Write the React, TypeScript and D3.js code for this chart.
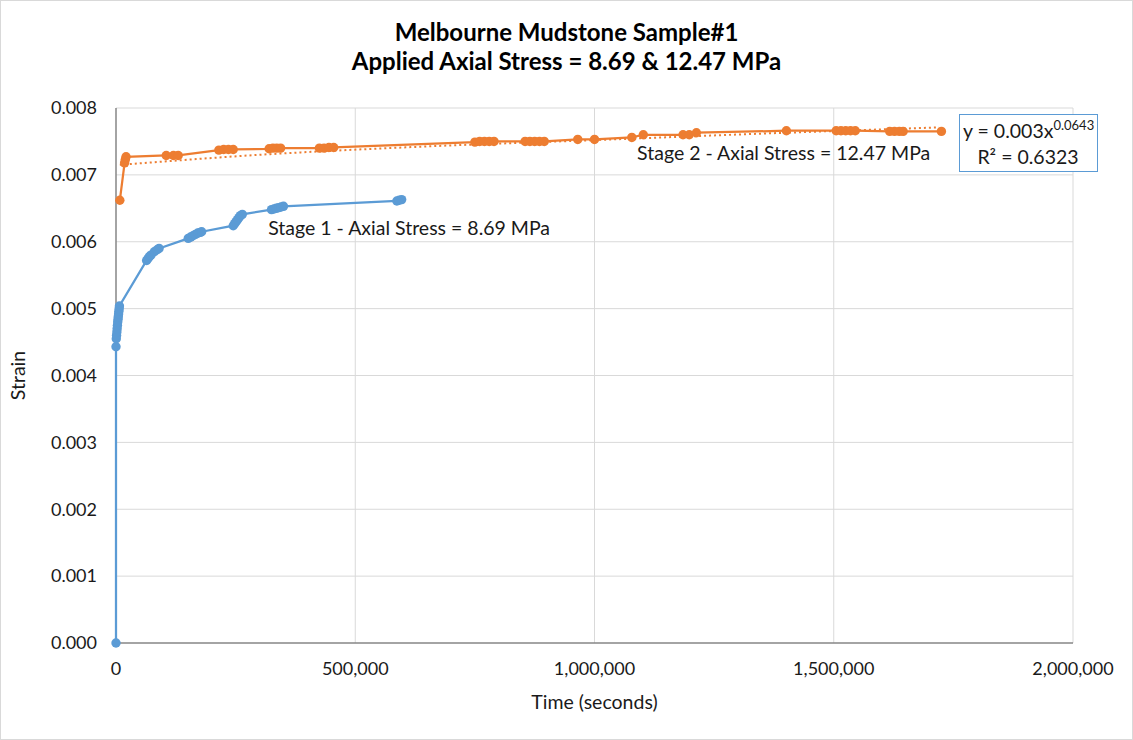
import React from "react";
import * as d3 from "d3";

const WIDTH = 1133;
const HEIGHT = 740;
const margin = { top: 108, right: 60, bottom: 97, left: 116 };

const FONT = "Lato, 'Open Sans', sans-serif";
const BLUE = "#5b9bd5";
const ORANGE = "#ed7d31";

// Stage 1 - 8.69 MPa
const stage1Time = [
  0, 0, 600, 1200, 1800, 2400, 3000, 3600, 4200, 4800, 5400, 6000, 6600, 7200,
  64000, 67000, 70000, 73000, 80000, 86000, 90000,
  151000, 156000, 161000, 166000, 171000, 176000, 179000,
  245000, 248000, 251000, 254000, 257000, 260000, 264000,
  325000, 330000, 335000, 340000, 345000, 350000,
  587000, 592000, 597000,
];
const stage1Strain = [
  0, 0.00443, 0.00455, 0.0046, 0.00465, 0.0047, 0.00475, 0.0048, 0.00484,
  0.00488, 0.00492, 0.00496, 0.005, 0.00504,
  0.00572, 0.00575, 0.00578, 0.0058, 0.00585, 0.00588, 0.0059,
  0.00605, 0.00607, 0.00609, 0.00611, 0.00613, 0.00614, 0.00615,
  0.00624, 0.00627, 0.0063, 0.00633, 0.00636, 0.00639, 0.00641,
  0.00648, 0.00649, 0.0065, 0.00651, 0.00652, 0.00653,
  0.00661, 0.00662, 0.00663,
];

// Stage 2 - 12.47 MPa
const stage2Time = [
  8000, 18000, 19500, 21000,
  105000, 120000, 130000,
  215000, 225000, 235000, 245000,
  320000, 328000, 336000, 344000,
  425000, 435000, 445000, 455000,
  750000, 760000, 770000, 780000, 790000,
  855000, 865000, 875000, 885000, 895000,
  965000, 1000000, 1078000, 1102000, 1185000, 1198000, 1213000, 1401000,
  1505000, 1515000, 1525000, 1535000, 1545000,
  1617000, 1627000, 1637000, 1645000, 1725000,
];
const stage2Strain = [
  0.00662, 0.00718, 0.00723, 0.00727,
  0.00729, 0.00729, 0.00729,
  0.00737, 0.00738, 0.00738, 0.00738,
  0.00739, 0.0074, 0.0074, 0.0074,
  0.0074, 0.0074, 0.00741, 0.00741,
  0.00749, 0.0075, 0.0075, 0.0075, 0.0075,
  0.0075, 0.0075, 0.0075, 0.0075, 0.0075,
  0.00753, 0.00753, 0.00756, 0.0076, 0.0076, 0.0076, 0.00763, 0.00766,
  0.00766, 0.00766, 0.00766, 0.00766, 0.00766,
  0.00765, 0.00765, 0.00765, 0.00765, 0.00765,
];

// power trend line of stage 2, as drawn
const trendTime = [8000, 322000, 600000, 1000000, 1400000, 1720000];
const trendStrain = [0.00715, 0.00731, 0.00741, 0.00752, 0.00763, 0.00771];

const xTicks = [0, 500000, 1000000, 1500000, 2000000];
const yTicks = [0, 0.001, 0.002, 0.003, 0.004, 0.005, 0.006, 0.007, 0.008];

const titleLines = ["Melbourne Mudstone Sample#1", "Applied Axial Stress = 8.69 & 12.47 MPa"];

const x = d3
  .scaleLinear()
  .domain([0, 2000000])
  .range([margin.left, WIDTH - margin.right]);
const y = d3
  .scaleLinear()
  .domain([0, 0.008])
  .range([HEIGHT - margin.bottom, margin.top]);

const fmtX = d3.format(",");
const fmtY = d3.format(".3f");

const toPoints = (t: number[], s: number[]) => t.map((d, i) => [d, s[i]] as [number, number]);

const line = d3
  .line<[number, number]>()
  .x((d) => x(d[0]))
  .y((d) => y(d[1]));

const trendLine = d3
  .line<[number, number]>()
  .x((d) => x(d[0]))
  .y((d) => y(d[1]))
  .curve(d3.curveMonotoneX);

function Series({ pts, color }: { pts: [number, number][]; color: string }) {
  return (
    <g>
      <path d={line(pts) || ""} fill="none" stroke={color} strokeWidth={2.25} />
      {pts.map((d, i) => (
        <circle key={i} cx={x(d[0])} cy={y(d[1])} r={4.7} fill={color} />
      ))}
    </g>
  );
}

export default function App() {
  const s1 = toPoints(stage1Time, stage1Strain);
  const s2 = toPoints(stage2Time, stage2Strain);
  const tr = toPoints(trendTime, trendStrain);
  const [x0, x1] = x.range();
  const [yb, yt] = y.range();

  return (
    <svg
      width={WIDTH}
      height={HEIGHT}
      style={{ position: "absolute", left: 0, top: 0, background: "#fff" }}
      fontFamily={FONT}
    >
      <rect x={0.5} y={0.5} width={WIDTH - 1} height={HEIGHT - 1} fill="#fff" stroke="#d9d9d9" />

      {/* title */}
      {titleLines.map((t, i) => (
        <text
          key={i}
          x={WIDTH / 2}
          y={41 + i * 29}
          textAnchor="middle"
          fontSize={24}
          fontWeight="bold"
          fill="#000"
        >
          {t}
        </text>
      ))}

      {/* grid */}
      {yTicks.slice(1).map((t) => (
        <line key={t} x1={x0} x2={x1} y1={y(t)} y2={y(t)} stroke="#d9d9d9" strokeWidth={1} />
      ))}
      {xTicks.slice(1).map((t) => (
        <line key={t} x1={x(t)} x2={x(t)} y1={yb} y2={yt} stroke="#d9d9d9" strokeWidth={1} />
      ))}

      {/* axes */}
      <line x1={x0} x2={x1} y1={yb} y2={yb} stroke="#868686" strokeWidth={1.5} />
      <line x1={x0} x2={x0} y1={yb} y2={yt} stroke="#868686" strokeWidth={1.5} />

      {yTicks.map((t) => (
        <text key={t} x={x0 - 19} y={y(t)} dy="0.35em" textAnchor="end" fontSize={18} fill="#1a1a1a">
          {fmtY(t)}
        </text>
      ))}
      {xTicks.map((t) => (
        <text key={t} x={x(t)} y={yb + 32} textAnchor="middle" fontSize={18} fill="#1a1a1a">
          {fmtX(t)}
        </text>
      ))}

      <text x={(x0 + x1) / 2} y={709} textAnchor="middle" fontSize={19.5} fill="#1a1a1a">
        Time (seconds)
      </text>
      <text
        transform={`translate(25, ${(yb + yt) / 2}) rotate(-90)`}
        textAnchor="middle"
        fontSize={19.5}
        fill="#1a1a1a"
      >
        Strain
      </text>

      {/* data */}
      <path
        d={trendLine(tr) || ""}
        fill="none"
        stroke={ORANGE}
        strokeWidth={2}
        strokeDasharray="2 3"
      />
      <Series pts={s2} color={ORANGE} />
      <Series pts={s1} color={BLUE} />

      {/* annotations */}
      <text x={x(318000)} y={y(0.0062)} dy="0.35em" fontSize={19.5} fill="#1a1a1a">
        Stage 1 - Axial Stress = 8.69 MPa
      </text>
      <text x={x(1089000)} y={y(0.00732)} dy="0.35em" fontSize={19.5} fill="#1a1a1a">
        Stage 2 - Axial Stress = 12.47 MPa
      </text>

      {/* trendline label */}
      <g>
        <rect x={959.5} y={114.5} width={138} height={57} fill="#fff" stroke={BLUE} strokeWidth={1} />
        <text x={963} y={138} fontSize={19.5} fill="#1a1a1a">
          y = 0.003x
          <tspan dy={-8} fontSize={13}>
            0.0643
          </tspan>
        </text>
        <text x={1028} y={164} textAnchor="middle" fontSize={19.5} fill="#1a1a1a">
          R² = 0.6323
        </text>
      </g>
    </svg>
  );
}
